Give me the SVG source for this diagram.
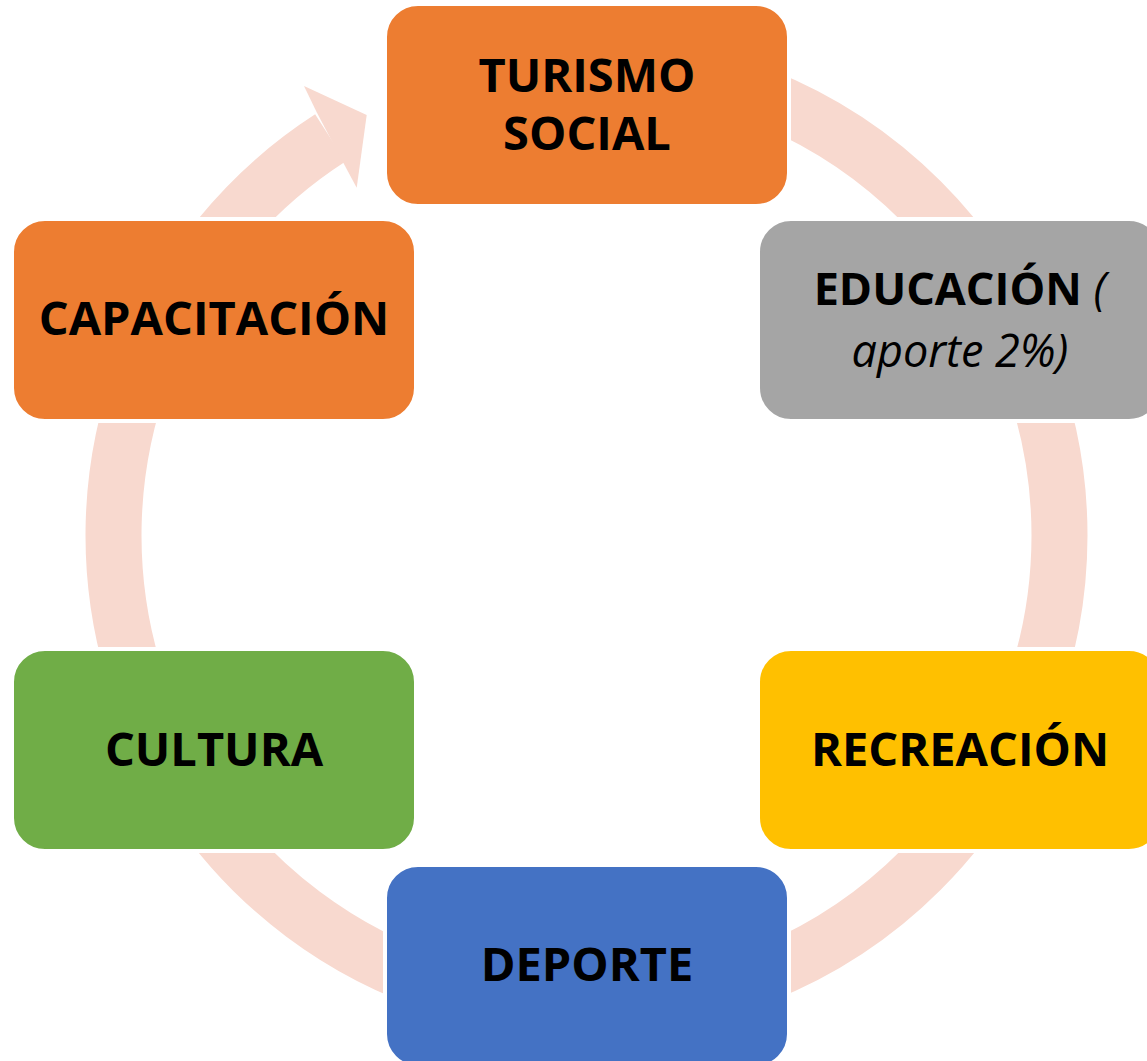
<svg xmlns="http://www.w3.org/2000/svg" width="1147" height="1061" viewBox="0 0 1147 1061">
<style>
.box{stroke:#FFFFFF;stroke-width:4}
.t{font-family:"Open Sans","Liberation Sans",sans-serif;font-weight:bold;font-size:47px;fill:#000000;text-anchor:middle}
.e{font-size:45px}
.it{font-weight:normal;font-style:italic}
.ring{fill:none;stroke:#F8D9CF;stroke-width:56}
</style>
<rect width="1147" height="1061" fill="#FFFFFF"/>
<g id="connectors">
<path class="ring" d="M586.5,62.5 A473,473 0 0 1 586.5,1008.5 A473,473 0 0 1 330.3,137.9"/>
<polygon points="316.7,112.3 304,86 366.7,115 356.7,187.7 343.3,162.7" fill="#F8D9CF"/>
</g>
<g id="turismo">
<rect class="box" x="385" y="4" width="404" height="202" rx="33" fill="#ED7D31"/>
<text class="t" x="587" y="92">TURISMO<tspan x="587" y="150">SOCIAL</tspan></text>
</g>
<g id="educacion">
<rect class="box" x="758" y="219" width="404" height="202" rx="33" fill="#A5A5A5"/>
<text class="t e" x="960" y="305">EDUCACIÓN<tspan class="it"> (</tspan><tspan class="it" x="960" y="367">aporte 2%)</tspan></text>
</g>
<g id="recreacion">
<rect class="box" x="758" y="649" width="404" height="202" rx="33" fill="#FFC000"/>
<text class="t" x="960" y="766">RECREACIÓN</text>
</g>
<g id="deporte">
<rect class="box" x="385" y="865" width="404" height="202" rx="33" fill="#4472C4"/>
<text class="t" x="587" y="981">DEPORTE</text>
</g>
<g id="cultura">
<rect class="box" x="12" y="649" width="404" height="202" rx="33" fill="#70AD47"/>
<text class="t" x="214" y="766">CULTURA</text>
</g>
<g id="capacitacion">
<rect class="box" x="12" y="219" width="404" height="202" rx="33" fill="#ED7D31"/>
<text class="t" x="214" y="335">CAPACITACIÓN</text>
</g>
</svg>
